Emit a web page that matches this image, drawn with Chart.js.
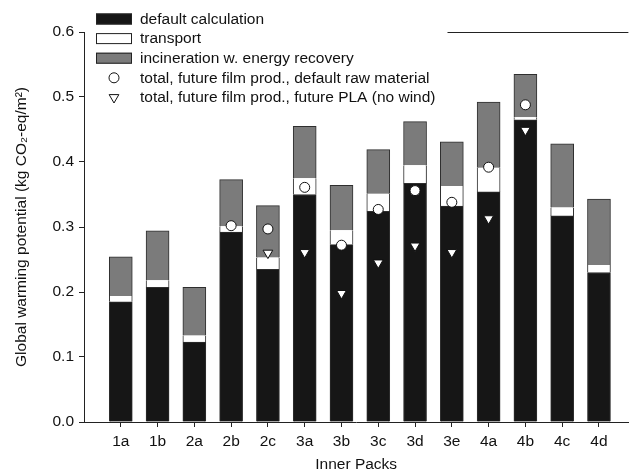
<!DOCTYPE html>
<html>
<head>
<meta charset="utf-8">
<script src="https://cdn.jsdelivr.net/npm/chart.js@4.4.1/dist/chart.umd.min.js"></script>
<style>
  html, body { margin: 0; padding: 0; background: #fff; }
  #wrap { width: 635px; height: 475px; }
</style>
</head>
<body>
<div id="wrap"><canvas id="gwp"></canvas></div>
<script>
// Inner pack variants
const categories = ['1a', '1b', '2a', '2b', '2c', '3a', '3b', '3c', '3d', '3e', '4a', '4b', '4c', '4d'];

// Stacked contributions, kg CO2-eq per m2
const defaultCalculation = [0.185, 0.207, 0.123, 0.292, 0.235, 0.350, 0.273, 0.324, 0.367, 0.332, 0.354, 0.465, 0.317, 0.230];
const transport          = [0.009, 0.011, 0.010, 0.009, 0.018, 0.025, 0.022, 0.027, 0.028, 0.031, 0.037, 0.004, 0.013, 0.0115];
const incineration       = [0.060, 0.076, 0.074, 0.072, 0.080, 0.080, 0.069, 0.068, 0.067, 0.068, 0.101, 0.066, 0.098, 0.1015];

// Scenario totals (null where the scenario was not evaluated)
const totalFutureFilmDefaultRaw = [null, null, null, 0.302, 0.297, 0.361, 0.272, 0.327, 0.356, 0.338, 0.392, 0.488, null, null];
const totalFutureFilmFuturePLA  = [null, null, null, null, 0.260, 0.261, 0.198, 0.245, 0.271, 0.261, 0.313, 0.449, null, null];

// Value axis ticks
const yTicks = [0.0, 0.1, 0.2, 0.3, 0.4, 0.5, 0.6];

const FONT = '"Liberation Sans", Arial, Helvetica, sans-serif';
const FS = 15.5;
Chart.defaults.font.family = FONT;
Chart.defaults.font.size = FS;
Chart.defaults.color = '#111';

const points = arr => arr.map((v, i) => ({ x: i + 1, y: v }));

function drawMarkPath(ctx, ds, x, y) {
  const r = ds.pointRadius;
  if (ds.pointStyle === 'circle') {
    ctx.arc(x, y, r, 0, Math.PI * 2);
  } else {
    // downward-pointing triangle
    ctx.moveTo(x - r * 0.866, y - r * 0.5);
    ctx.lineTo(x + r * 0.866, y - r * 0.5);
    ctx.lineTo(x, y + r);
    ctx.closePath();
  }
}

// Key drawn inside the top-left corner of the plot; the top frame line runs
// from the end of the key to the right edge.
const keyPanel = {
  id: 'keyPanel',
  afterDraw(chart) {
    const { ctx, chartArea } = chart;
    const markX = chartArea.left + 30;
    const textX = chartArea.left + 56;
    const row0 = chartArea.top - 13;
    const rowGap = 19.6;
    ctx.save();
    ctx.font = FS + 'px ' + FONT;
    ctx.textBaseline = 'middle';
    ctx.textAlign = 'left';
    let widest = 0;
    chart.data.datasets.forEach((ds, i) => {
      const y = row0 + i * rowGap;
      if (ds.type === 'scatter') {
        ctx.fillStyle = '#fff';
        ctx.strokeStyle = '#111';
        ctx.lineWidth = 1;
        ctx.beginPath();
        drawMarkPath(ctx, ds, markX, y);
        ctx.fill();
        ctx.stroke();
      } else {
        ctx.fillStyle = ds.backgroundColor;
        ctx.fillRect(markX - 18, y - 5.5, 36, 11);
        ctx.strokeStyle = '#222';
        ctx.lineWidth = 1;
        ctx.strokeRect(markX - 17.5, y - 5, 35, 10);
      }
      ctx.fillStyle = '#111';
      ctx.fillText(ds.label, textX, y + 0.5);
      widest = Math.max(widest, ctx.measureText(ds.label).width);
    });
    const lineStart = textX + widest + 12;
    ctx.strokeStyle = '#222';
    ctx.lineWidth = 1;
    ctx.beginPath();
    ctx.moveTo(lineStart, Math.round(chartArea.top) + 0.5);
    ctx.lineTo(chartArea.right, Math.round(chartArea.top) + 0.5);
    ctx.stroke();
    ctx.restore();
  }
};

const barCommon = {
  type: 'bar',
  barThickness: 23,
  borderColor: '#2e2e2e',
  order: 2
};

new Chart(document.getElementById('gwp'), {
  type: 'bar',
  data: {
    datasets: [
      Object.assign({}, barCommon, {
        label: 'default calculation',
        data: points(defaultCalculation),
        backgroundColor: '#161616',
        borderWidth: 1
      }),
      Object.assign({}, barCommon, {
        label: 'transport',
        data: points(transport),
        backgroundColor: '#ffffff',
        borderWidth: { top: 0, bottom: 0, left: 1, right: 1 }
      }),
      Object.assign({}, barCommon, {
        label: 'incineration w. energy recovery',
        data: points(incineration),
        backgroundColor: '#7b7b7b',
        borderWidth: 1
      }),
      {
        type: 'scatter',
        label: 'total, future film prod., default raw material',
        data: points(totalFutureFilmDefaultRaw),
        stack: 'ringTotals',
        pointStyle: 'circle',
        pointRadius: 5,
        pointHoverRadius: 5,
        backgroundColor: '#ffffff',
        borderColor: '#111',
        borderWidth: 1,
        order: 0
      },
      {
        type: 'scatter',
        label: 'total, future film prod., future PLA (no wind)',
        data: points(totalFutureFilmFuturePLA),
        stack: 'triangleTotals',
        pointStyle: 'triangle',
        rotation: 180,
        pointRadius: 5.6,
        pointHoverRadius: 5.6,
        backgroundColor: '#ffffff',
        borderColor: '#111',
        borderWidth: 1,
        order: 1
      }
    ]
  },
  options: {
    responsive: true,
    maintainAspectRatio: false,
    animation: false,
    layout: { padding: { top: 32, left: 0, right: 0, bottom: 0 } },
    plugins: {
      legend: { display: false },
      tooltip: { enabled: false }
    },
    scales: {
      x: {
        type: 'linear',
        stacked: true,
        offset: false,
        min: 0,
        max: 14.8,
        afterBuildTicks(scale) {
          scale.ticks = categories.map((c, i) => ({ value: i + 1 }));
        },
        afterFit(scale) {
          scale.height = 53;
          scale.paddingLeft = 0;
          scale.paddingRight = 0;
        },
        ticks: {
          autoSkip: false,
          maxRotation: 0,
          padding: 5,
          color: '#111',
          callback: v => categories[v - 1] ?? ''
        },
        grid: {
          display: true,
          offset: false,
          drawOnChartArea: false,
          drawTicks: true,
          tickLength: 5,
          color: '#222',
          tickColor: '#222',
          tickWidth: 1
        },
        border: { display: true, color: '#222', width: 1 },
        title: {
          display: true,
          text: 'Inner Packs',
          color: '#111',
          padding: { top: 4, bottom: 1 }
        }
      },
      y: {
        stacked: true,
        min: 0,
        max: 0.6,
        afterBuildTicks(scale) {
          scale.ticks = yTicks.map(v => ({ value: v }));
        },
        afterFit(scale) {
          scale.width = 84;
        },
        ticks: {
          padding: 5,
          color: '#111',
          callback: v => Number(v).toFixed(1)
        },
        grid: {
          display: true,
          drawOnChartArea: false,
          drawTicks: true,
          tickLength: 5,
          color: '#222',
          tickColor: '#222',
          tickWidth: 1
        },
        border: { display: true, color: '#222', width: 1 },
        title: {
          display: true,
          text: 'Global warming potential (kg CO\u2082-eq/m\u00b2)',
          color: '#111',
          padding: { top: 12.7, bottom: 0 }
        }
      }
    }
  },
  plugins: [keyPanel]
});
</script>
</body>
</html>
